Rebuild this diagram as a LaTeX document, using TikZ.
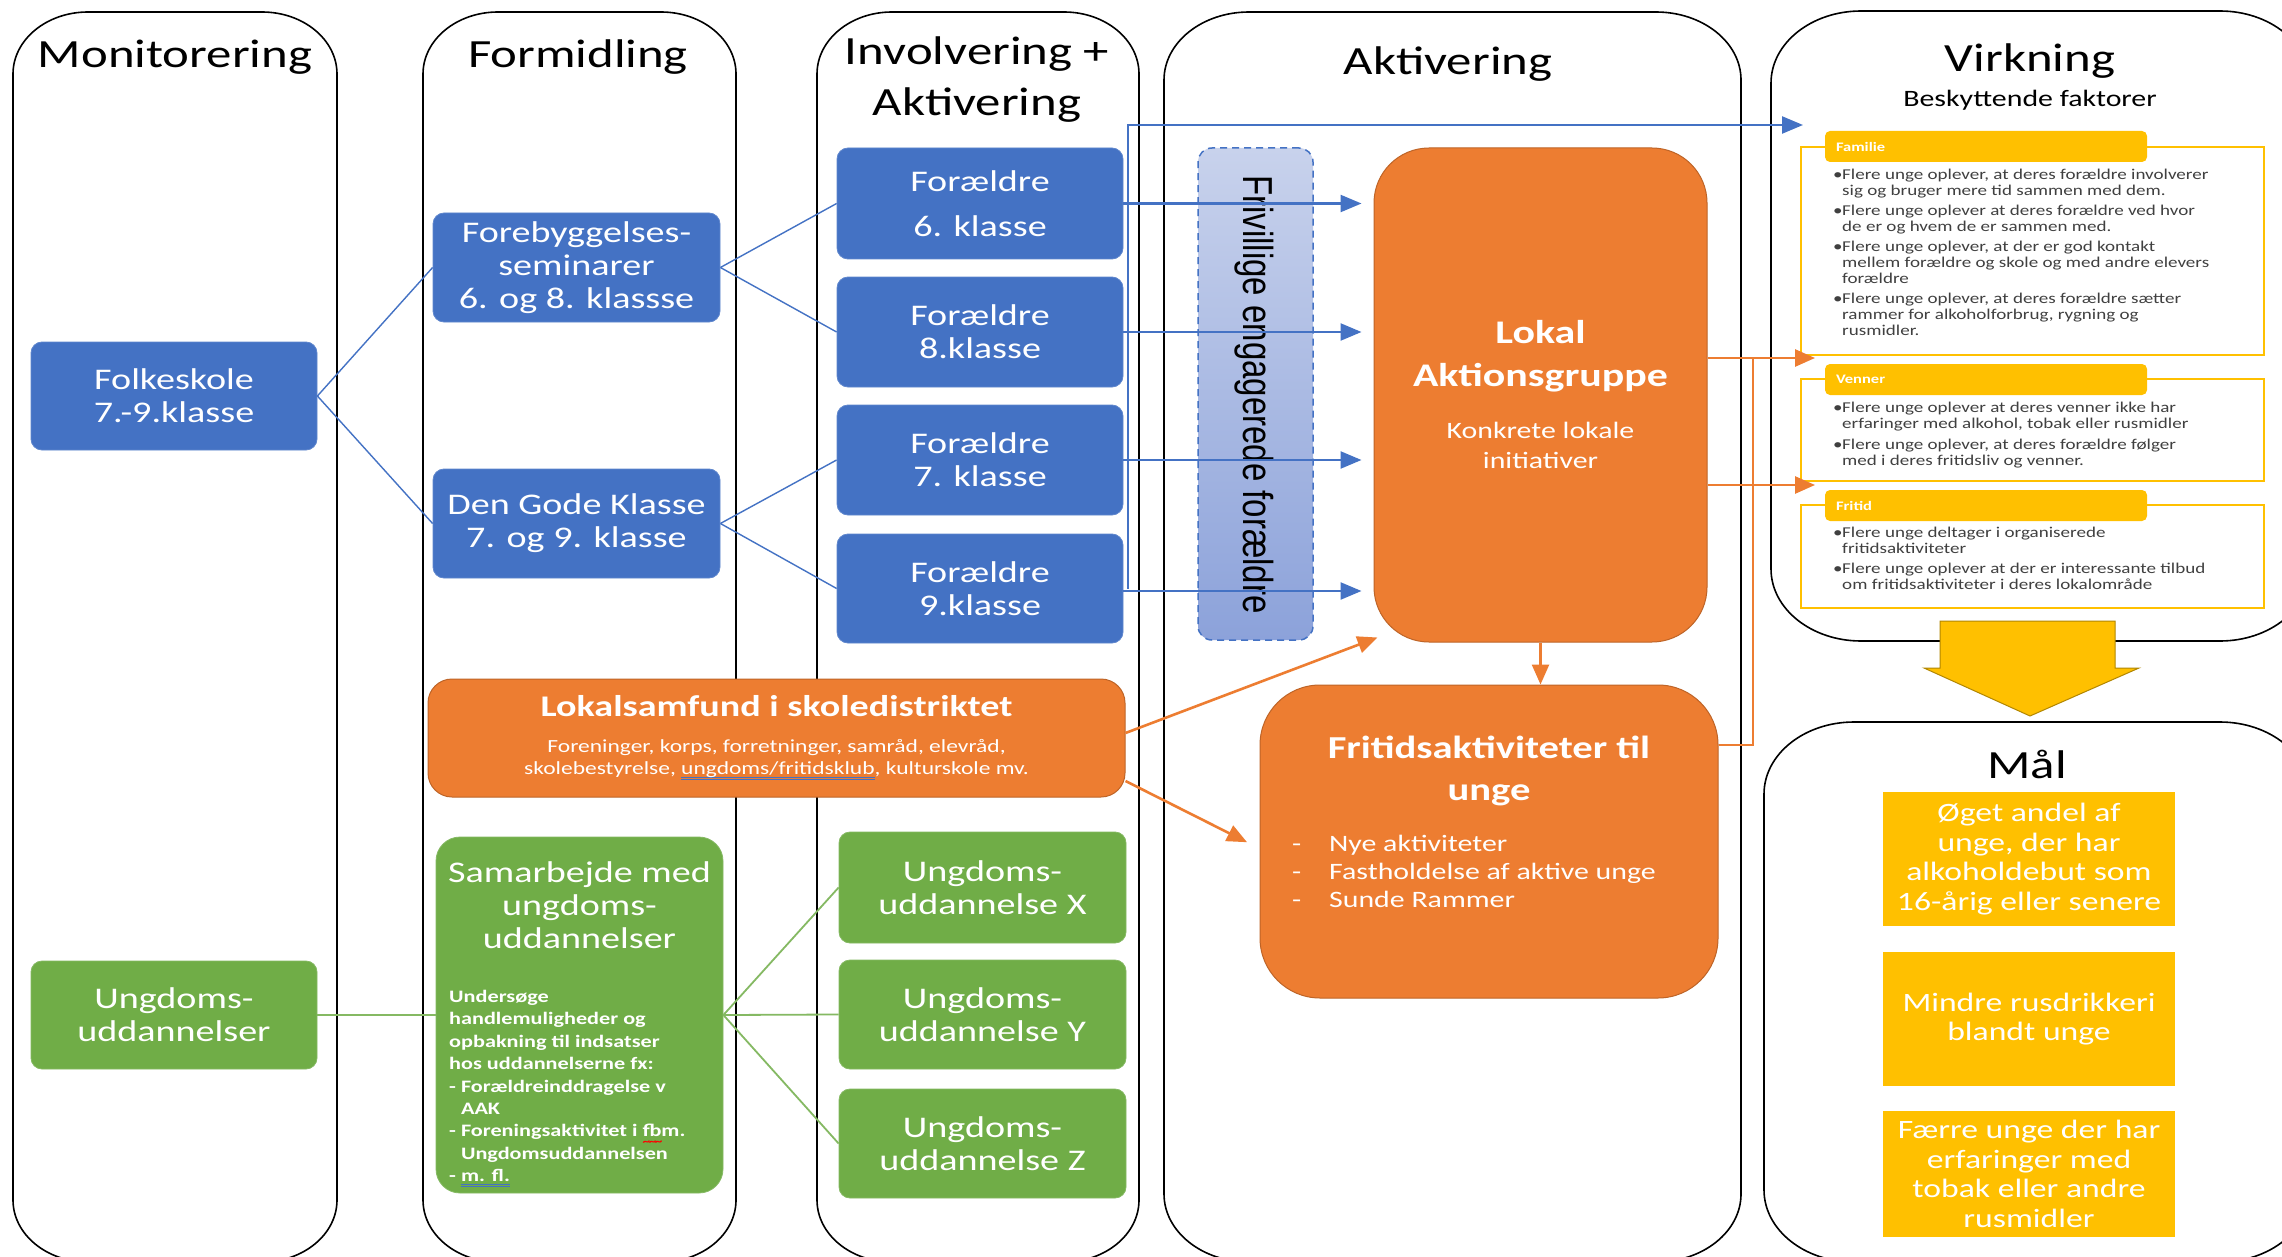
\documentclass[tikz,border=0pt]{standalone}
\usepackage{fontspec}
\setmainfont{Carlito}[FakeStretch=1.27]
\newfontfamily\arialfont{Liberation Sans}
\usetikzlibrary{arrows.meta,calc}
\definecolor{cblue}{HTML}{4472C4}
\definecolor{corange}{HTML}{ED7D31}
\definecolor{cgreen}{HTML}{70AD47}
\definecolor{cyellow}{HTML}{FFC000}
\definecolor{ctext}{HTML}{404040}
\definecolor{frivtop}{HTML}{C8D2EC}
\definecolor{frivbot}{HTML}{8CA2DA}
\newsavebox{\ulbox}
\newcommand{\dul}[1]{\sbox{\ulbox}{#1}\rlap{\color{cblue}\rule[-3.5pt]{\wd\ulbox}{0.8pt}}\rlap{\color{cblue}\rule[-5.5pt]{\wd\ulbox}{0.8pt}}\usebox{\ulbox}}
\newcommand{\wul}[1]{\sbox{\ulbox}{#1}\rlap{\color{red}\raisebox{-9pt}{\fontsize{12}{12}\selectfont\textasciitilde\kern-1.5pt\textasciitilde\kern-1.5pt\textasciitilde}}\usebox{\ulbox}}
\newcommand{\erbox}[7][]{\draw[#1] (#2,#3+#7) arc (180:270:#6 and #7) -- (#4-#6,#3) arc (270:360:#6 and #7) -- (#4,#5-#7) arc (0:90:#6 and #7) -- (#2+#6,#5) arc (90:180:#6 and #7) -- cycle;}
\newcommand{\pbul}{\makebox[9pt][l]{\textbullet}}
\newcommand{\pind}{\hspace*{9pt}}
\newcommand{\lagT}{\bfseries\fontsize{33}{43}\selectfont}
\newcommand{\lokT}{\bfseries\fontsize{30}{36}\selectfont}
\begin{document}
\begin{tikzpicture}[x=1pt,y=-1pt,
 col/.style={draw=black, line width=1.6pt},
 bbox/.style={fill=cblue, draw=cblue!85!white, line width=0.8pt, rounded corners=11pt, text=white, align=center, inner sep=0pt, font=\fontsize{30}{33}\selectfont},
 gbox/.style={bbox, fill=cgreen, draw=cgreen!85!white},
 obox/.style={fill=corange, draw=corange!80!black, line width=1pt, text=white, align=center, inner sep=0pt},
 ybox/.style={fill=cyellow, text=white, align=center, inner sep=0pt, font=\fontsize{26.5}{29.7}\selectfont, minimum width=292pt},
 hdr/.style={font=\fontsize{40}{51}\selectfont, align=center, inner sep=0pt},
 bline/.style={draw=cblue, line width=1.4pt},
 gline/.style={draw=cgreen!85!white, line width=1.8pt},
 barrow/.style={draw=cblue, line width=2.4pt, -{Triangle[length=21pt,width=17pt]}},
 bpath/.style={draw=cblue, line width=2.4pt},
 oarrow/.style={draw=corange, line width=2.6pt, -{Triangle[length=20pt,width=17pt]}},
 opath/.style={draw=corange, line width=2.6pt},
 yframe/.style={draw=cyellow, line width=1.8pt},
 ytab/.style={fill=cyellow, rounded corners=5pt, minimum width=322pt, minimum height=31pt, text width=300pt, align=left, inner xsep=11pt, inner ysep=0pt, text=white, font=\bfseries\fontsize{13}{13}\selectfont},
 ptxt/.style={anchor=north west, inner sep=0pt, align=left, text=ctext, font=\fontsize{15}{16}\selectfont}
]
\useasboundingbox (0,0) rectangle (2282,1257);
\clip (0,0) rectangle (2282,1257);
\fill[white] (0,0) rectangle (2282,1257);
% columns
\erbox[col]{13}{12}{337}{1262}{75}{62}
\erbox[col]{423}{12}{736}{1262}{75}{62}
\erbox[col]{817}{12}{1139}{1262}{75}{62}
\erbox[col]{1164}{12}{1741}{1262}{85}{68}
\erbox[col]{1771}{11}{2310}{641}{90}{72}
\erbox[col]{1764}{722}{2310}{1262}{90}{72}
% headers
\node[hdr] (hmon) at (175,57) {Monitorering};
\node[hdr] (hform) at (578,57) {Formidling};
\node[hdr] (hinv) at (977,80) {Involvering +\\Aktivering};
\node[hdr] (hakt) at (1448,64) {Aktivering};
\node[hdr] (hvirk) at (2030,61) {Virkning};
\node[font=\fontsize{23.5}{28}\selectfont, inner sep=0pt] (besk) at (2030,100) {Beskyttende faktorer};
\node[hdr] (hmaal) at (2027,764) {Mål};
% Virkning panels
\draw[yframe] (1801,147) rectangle (2264,355);
\draw[yframe] (1801,379) rectangle (2264,481);
\draw[yframe] (1801,505) rectangle (2264,608);
\node[ytab] (famtab) at (1986,146.5) {Familie};
\node[ytab] (ventab) at (1986,379.5) {Venner};
\node[ytab] (fritab) at (1986,505.5) {Fritid};
\node[ptxt] (famtxt) at (1833,169) {\pbul Flere unge oplever, at deres forældre involverer\\\pind sig og bruger mere tid sammen med dem.\\[4pt]\pbul Flere unge oplever at deres forældre ved hvor\\\pind de er og hvem de er sammen med.\\[4pt]\pbul Flere unge oplever, at der er god kontakt\\\pind mellem forældre og skole og med andre elevers\\\pind forældre\\[4pt]\pbul Flere unge oplever, at deres forældre sætter\\\pind rammer for alkoholforbrug, rygning og\\\pind rusmidler.};
\node[ptxt] (ventxt) at (1833,402) {\pbul Flere unge oplever at deres venner ikke har\\\pind erfaringer med alkohol, tobak eller rusmidler\\[5pt]\pbul Flere unge oplever, at deres forældre følger\\\pind med i deres fritidsliv og venner.};
\node[ptxt] (fritxt) at (1833,527) {\pbul Flere unge deltager i organiserede\\\pind fritidsaktiviteter\\[4pt]\pbul Flere unge oplever at der er interessante tilbud\\\pind om fritidsaktiviteter i deres lokalområde};
% Mål boxes
\node[ybox, minimum height=134pt] (m1) at (2029,859) {Øget andel af\\unge, der har\\alkoholdebut som\\16-årig eller senere};
\node[ybox, minimum height=134pt] (m2) at (2029,1019) {Mindre rusdrikkeri\\blandt unge};
\node[ybox, minimum height=126pt] (m3) at (2029,1174) {Færre unge der har\\erfaringer med\\tobak eller andre\\rusmidler};
% blue boxes
\node[bbox, minimum width=286pt, minimum height=108pt] (folk) at (174,396) {Folkeskole\\7.-9.klasse};
\node[bbox, minimum width=287pt, minimum height=109pt] (forb) at (576.5,267.5) {Forebyggelses-\\seminarer\\6. og 8. klassse};
\node[bbox, minimum width=287pt, minimum height=109pt] (gode) at (576.5,523.5) {Den Gode Klasse\\7. og 9. klasse};
\node[bbox, minimum width=286pt, minimum height=111pt] (f6) at (980,203.5) {Forældre\\[12pt]6. klasse};
\node[bbox, minimum width=286pt, minimum height=110pt] (f8) at (980,332) {Forældre\\8.klasse};
\node[bbox, minimum width=286pt, minimum height=110pt] (f7) at (980,460) {Forældre\\7. klasse};
\node[bbox, minimum width=286pt, minimum height=109pt] (f9) at (980,588.5) {Forældre\\9.klasse};
% green boxes
\node[gbox, minimum width=286pt, minimum height=108pt] (ung) at (174,1015) {Ungdoms-\\uddannelser};
\node[gbox, rounded corners=24pt, minimum width=287pt, minimum height=356pt] (sam) at (579.5,1015) {};
\node[inner sep=0pt, text=white, align=center, font=\fontsize{30}{33}\selectfont] (samtitle) at (579.5,905) {Samarbejde med\\ungdoms-\\uddannelser};
\node[anchor=north west, inner sep=0pt, text=white, align=left, font=\bfseries\fontsize{17.5}{22.4}\selectfont] (sambody) at (449,990) {Undersøge\\handlemuligheder og\\opbakning til indsatser\\hos uddannelserne fx:\\- Forældreinddragelse v\\\hphantom{- }AAK\\- Foreningsaktivitet i \wul{fbm}.\\\hphantom{- }Ungdomsuddannelsen\\- \dul{m. fl.}};
\node[gbox, minimum width=287pt, minimum height=111pt] (ux) at (982.5,887.5) {Ungdoms-\\uddannelse X};
\node[gbox, minimum width=287pt, minimum height=109pt] (uy) at (982.5,1014.5) {Ungdoms-\\uddannelse Y};
\node[gbox, minimum width=287pt, minimum height=109pt] (uz) at (982.5,1143.5) {Ungdoms-\\uddannelse Z};
% orange boxes
\node[obox, rounded corners=24pt, minimum width=697pt, minimum height=118pt, font=\fontsize{18.5}{22}\selectfont] (lok) at (776.5,738) {{\lokT Lokalsamfund i skoledistriktet}\\[14pt]Foreninger, korps, forretninger, samråd, elevråd,\\skolebestyrelse, \dul{ungdoms/fritidsklub}, kulturskole mv.};
\node[draw=cblue, dashed, dash pattern=on 7pt off 5pt, line width=1.5pt, rounded corners=14pt, top color=frivtop, bottom color=frivbot, minimum width=115pt, minimum height=492pt] (friv) at (1255.5,394) {};
\node[rotate=-90, inner sep=0pt, font=\arialfont\fontsize{33}{33}\selectfont] (frivtxt) at (1254,394.5) {\scalebox{1}[1.27]{Frivillige engagerede forældre}};
\node[obox, rounded corners=55pt, minimum width=333pt, minimum height=494pt, font=\fontsize{23.5}{30}\selectfont] (lag) at (1540.5,395) {{\lagT Lokal}\\[13pt]{\lagT Aktionsgruppe}\\[22pt]Konkrete lokale\\initiativer};
\node[obox, rounded corners=60pt, minimum width=458pt, minimum height=313pt] (fri) at (1489,841.5) {};
\node[inner sep=0pt, text=white, align=center, font=\bfseries\fontsize{32}{42}\selectfont] (frititle) at (1489,771) {Fritidsaktiviteter til\\unge};
\node[anchor=west, inner sep=0pt, text=white, align=left, font=\fontsize{23.5}{28}\selectfont] (frilist) at (1292,871) {\makebox[37pt][l]{-}Nye aktiviteter\\\makebox[37pt][l]{-}Fastholdelse af aktive unge\\\makebox[37pt][l]{-}Sunde Rammer};
% coordinates
\coordinate (btop) at (1128,125);
\coordinate (virkA) at (1803,125);
\coordinate (vB) at (1815,358);
\coordinate (vC) at (1815,485);
\coordinate (ojoin) at (1753,358);
% blue connectors
\draw[bline] (folk.east) -- (forb.west);
\draw[bline] (folk.east) -- (gode.west);
\draw[bline] (forb.east) -- (f6.west);
\draw[bline] (forb.east) -- (f8.west);
\draw[bline] (gode.east) -- (f7.west);
\draw[bline] (gode.east) -- (f9.west);
\draw[barrow] (f9.east -| btop) -- (btop) -- (virkA);
\draw[barrow, shorten >=12pt] (f6.east) -- (f6.east -| lag.west);
\draw[barrow, shorten >=12pt] (f8.east) -- (f8.east -| lag.west);
\draw[barrow, shorten >=12pt] (f7.east) -- (f7.east -| lag.west);
\draw[barrow, shorten >=12pt] ([yshift=-2.5pt]f9.east) -- ([yshift=-2.5pt]f9.east -| lag.west);
% green connectors
\draw[gline] (ung.east) -- (sam.west);
\draw[gline] (sam.east) -- (ux.west);
\draw[gline] (sam.east) -- (uy.west);
\draw[gline] (sam.east) -- (uz.west);
% orange connectors
\draw[oarrow] (lag.south) -- (lag.south |- fri.north);
\draw[oarrow] (vB -| lag.east) -- (vB);
\draw[oarrow] (vC -| lag.east) -- (vC);
\draw[opath] ([yshift=96.5pt]fri.east) -| (ojoin);
\draw[oarrow] ([yshift=5pt]lok.east) -- ([xshift=4pt,yshift=5pt]lag.south west);
\draw[oarrow, shorten >=14pt] ([yshift=-43pt]lok.east) -- ([yshift=-7pt]fri.west);
% big yellow arrow
\draw[fill=cyellow, draw=cyellow!70!black, line width=1pt] (1940,621) -- (2115,621) -- (2115,668) -- (2139,668) -- (2030,716) -- (1924,668) -- (1940,668) -- cycle;
\end{tikzpicture}
\end{document}
